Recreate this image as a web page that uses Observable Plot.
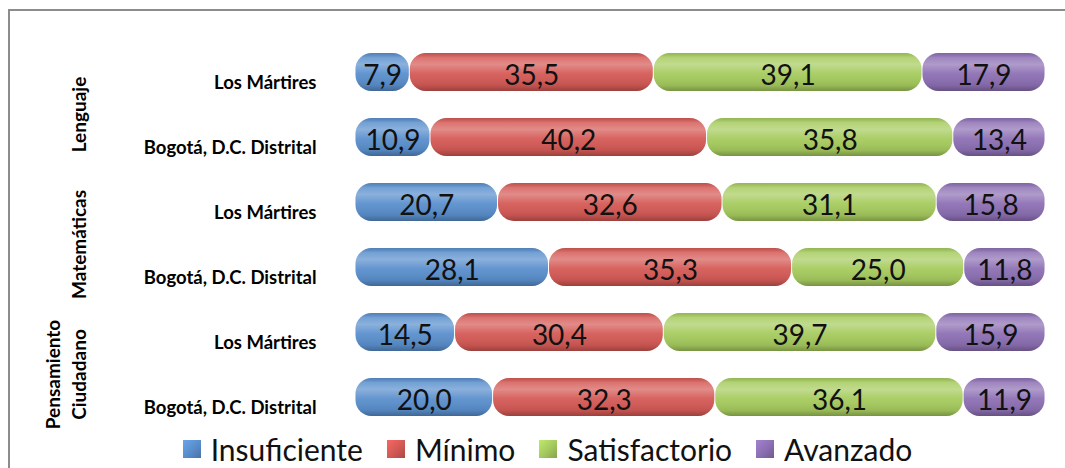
<!DOCTYPE html>
<html>
<head>
<meta charset="utf-8">
<script src="https://cdn.jsdelivr.net/npm/d3@7"></script>
<script src="https://cdn.jsdelivr.net/npm/@observablehq/plot@0.6"></script>
<style>
  html, body { margin: 0; padding: 0; background: #fff; }
  #wrap { position: relative; width: 1065px; height: 468px; overflow: hidden; font-family: Lato, sans-serif; }
  #frame { position: absolute; left: 8px; top: 9px; width: 1200px; height: 600px; border-top: 2px solid #8c8c8c; border-left: 2px solid #8c8c8c; box-sizing: border-box; }
  #chart { position: absolute; left: 0; top: 0; }
  #legend { position: absolute; left: 0; width: 1065px; top: 432px; height: 34px; display: flex; justify-content: center; align-items: center; font-size: 30px; color: #111; padding-left: 30px; box-sizing: border-box; }
  .item { display: flex; align-items: center; margin: 0 12px; }
  .sw { width: 18px; height: 18px; margin-right: 10px; }
</style>
</head>
<body>
<svg width="0" height="0" style="position:absolute">
  <defs>
    <linearGradient id="shine" x1="0" y1="0" x2="0" y2="1">
      <stop offset="0" stop-color="#000000" stop-opacity="0.10"/>
      <stop offset="0.12" stop-color="#ffffff" stop-opacity="0.15"/>
      <stop offset="0.3" stop-color="#ffffff" stop-opacity="0.30"/>
      <stop offset="0.55" stop-color="#ffffff" stop-opacity="0.05"/>
      <stop offset="0.85" stop-color="#000000" stop-opacity="0.08"/>
      <stop offset="1" stop-color="#000000" stop-opacity="0.28"/>
    </linearGradient>
  </defs>
</svg>
<div id="wrap">
  <div id="frame"></div>
  <div id="chart"></div>
  <div id="legend"></div>
</div>
<script>
const subjects = ["Lenguaje", "Matemáticas", "Pensamiento Ciudadano"];
const areas = ["Los Mártires", "Bogotá, D.C. Distrital"];
const levels = ["Insuficiente", "Mínimo", "Satisfactorio", "Avanzado"];
const levelColors = ["#5a8fcd", "#d55a56", "#a6cb5e", "#8d70b4"];

// rows in order: Lenguaje/LM, Lenguaje/Bog, Mat/LM, Mat/Bog, PC/LM, PC/Bog
const insuficiente  = [7.9, 10.9, 20.7, 28.1, 14.5, 20.0];
const minimo        = [35.5, 40.2, 32.6, 35.3, 30.4, 32.3];
const satisfactorio = [39.1, 35.8, 31.1, 25.0, 39.7, 36.1];
const avanzado      = [17.9, 13.4, 15.8, 11.8, 15.9, 11.9];

const series = [insuficiente, minimo, satisfactorio, avanzado];
const rows = [];
subjects.forEach((s, si) => {
  areas.forEach((a, ai) => {
    const r = si * areas.length + ai;
    levels.forEach((l, li) => {
      rows.push({subject: s, area: a, level: l, value: series[li][r]});
    });
  });
});

const fmt = v => d3.format(".1f")(v).replace(".", ",");
const stackOpts = {offset: "normalize", x: "value", y: "area", fy: "subject", z: "level", order: levels};

const chart = Plot.plot({
  width: 1065,
  height: 432,
  marginLeft: 355,
  marginRight: 20,
  marginTop: 38,
  marginBottom: 2,
  x: {domain: [0, 1], axis: null},
  y: {domain: areas, paddingInner: 0.418, paddingOuter: 0.209, axis: null},
  fy: {domain: subjects, padding: 0, axis: null},
  color: {domain: levels, range: levelColors},
  style: {fontFamily: "Lato, sans-serif", color: "#000", background: "transparent", overflow: "visible"},
  marks: [
    Plot.barX(rows, Plot.stackX({...stackOpts, fill: "level", rx: 16, insetLeft: 0.5, insetRight: 0.5})),
    Plot.barX(rows, Plot.stackX({...stackOpts, fill: "url(#shine)", rx: 16, insetLeft: 0.5, insetRight: 0.5})),
    Plot.textX(rows, Plot.stackX({...stackOpts, text: d => fmt(d.value), fontSize: 28, fill: "#111", dy: 4})),
    Plot.axisY({tickSize: 0, tickPadding: 39, fontSize: 18.5, fontWeight: "bold", label: null, dy: 11, fill: "#000"}),
    Plot.axisFy({anchor: "left", tickSize: 0, tickRotate: -90, fontSize: 19, fontWeight: "bold", label: null,
      lineHeight: 1.35, tickFormat: d => d.replace(" ", "\n"), dx: -261, dy: 10, fill: "#000"})
  ]
});
document.getElementById("chart").appendChild(chart);

const legend = document.getElementById("legend");
levels.forEach((l, i) => {
  const item = document.createElement("div");
  item.className = "item";
  const sw = document.createElement("div");
  sw.className = "sw";
  const c = d3.color(levelColors[i]);
  sw.style.background = `linear-gradient(135deg, ${c.brighter(0.4)} 0%, ${c} 50%, ${c.darker(0.6)} 100%)`;
  const t = document.createElement("span");
  t.textContent = l;
  item.appendChild(sw);
  item.appendChild(t);
  legend.appendChild(item);
});
</script>
</body>
</html>
